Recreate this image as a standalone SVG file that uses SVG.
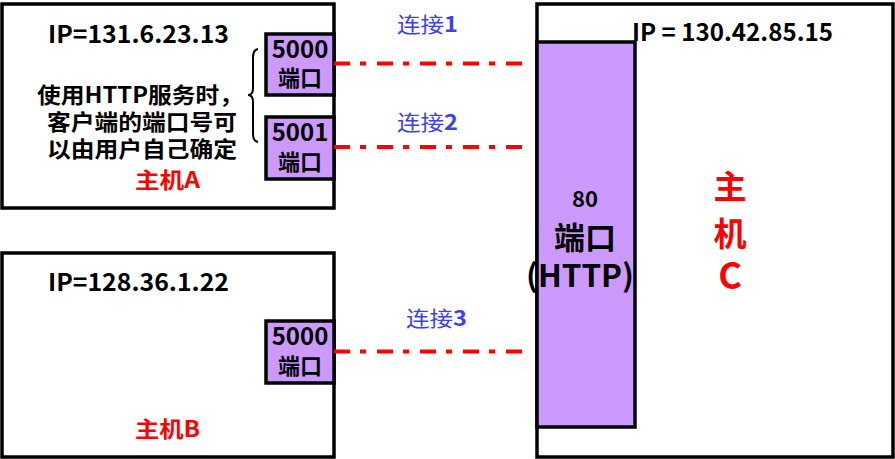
<svg xmlns="http://www.w3.org/2000/svg" width="895" height="459" viewBox="0 0 895 459">
<style>
.box{fill:#fff;stroke:#000;stroke-width:3.5}
.port{fill:#cc99ff;stroke:#000;stroke-width:3.5}
.t{font-family:"Noto Sans CJK SC","Open Sans",sans-serif;font-weight:bold;fill:#000}
.red{fill:#ff0000}
.blue{font-family:"Noto Sans CJK SC",sans-serif;fill:#3f3ff0;font-size:21px}
.conn{stroke:#ff0000;stroke-width:4;stroke-dasharray:16 10 6 11;fill:none}
</style>
<g id="hostA">
<rect class="box" x="2" y="4" width="332" height="204"/>
<text class="t" x="48" y="43" font-size="24" textLength="181" lengthAdjust="spacingAndGlyphs">IP=131.6.23.13</text>
<text class="t" x="37" y="103" font-size="22" textLength="206" lengthAdjust="spacingAndGlyphs">使用HTTP服务时，</text>
<text class="t" x="47" y="130" font-size="22" textLength="190" lengthAdjust="spacingAndGlyphs">客户端的端口号可</text>
<text class="t" x="47" y="157" font-size="22" textLength="190" lengthAdjust="spacingAndGlyphs">以由用户自己确定</text>
<text class="t red" x="135" y="188" font-size="22" textLength="65" lengthAdjust="spacingAndGlyphs">主机A</text>
<path d="M258,49 Q253,50 253,57 L253,88 Q253,95 248,95 Q253,95 253,102 L253,134 Q253,141 258,142" fill="none" stroke="#000" stroke-width="2"/>
</g>
<g id="portA5000">
<rect class="port" x="266" y="34" width="68" height="61"/>
<text class="t" x="300" y="58" font-size="24" text-anchor="middle">5000</text>
<text class="t" x="300" y="86" font-size="22" text-anchor="middle">端口</text>
</g>
<g id="portA5001">
<rect class="port" x="266" y="117" width="68" height="62"/>
<text class="t" x="300" y="141" font-size="24" text-anchor="middle">5001</text>
<text class="t" x="300" y="170" font-size="22" text-anchor="middle">端口</text>
</g>
<g id="hostB">
<rect class="box" x="2" y="253" width="332" height="204"/>
<text class="t" x="48" y="291" font-size="24" textLength="181" lengthAdjust="spacingAndGlyphs">IP=128.36.1.22</text>
<text class="t red" x="135" y="437" font-size="22" textLength="65" lengthAdjust="spacingAndGlyphs">主机B</text>
</g>
<g id="portB5000">
<rect class="port" x="266" y="321" width="68" height="62"/>
<text class="t" x="300" y="345" font-size="24" text-anchor="middle">5000</text>
<text class="t" x="300" y="374" font-size="22" text-anchor="middle">端口</text>
</g>
<g id="hostC">
<rect class="box" x="537" y="4" width="356" height="453"/>
<text class="t" x="632" y="41" font-size="24" textLength="201" lengthAdjust="spacingAndGlyphs">IP = 130.42.85.15</text>
<text class="t red" x="730" y="199" font-size="33" text-anchor="middle">主</text>
<text class="t red" x="730" y="246" font-size="33" text-anchor="middle">机</text>
<text class="t red" x="730" y="289" font-size="36" text-anchor="middle">C</text>
</g>
<g id="port80">
<rect class="port" x="537" y="42" width="98" height="385"/>
<text class="t" x="585" y="207" font-size="22" text-anchor="middle">80</text>
<text class="t" x="585" y="249" font-size="31" text-anchor="middle">端口</text>
<text class="t" x="580" y="287" font-size="31" text-anchor="middle" textLength="108" lengthAdjust="spacingAndGlyphs">(HTTP)</text>
</g>
<g id="connectors">
<line class="conn" x1="334" y1="63.5" x2="526" y2="63.5"/>
<line class="conn" x1="334" y1="147" x2="526" y2="147"/>
<line class="conn" x1="334" y1="351.5" x2="526" y2="351.5"/>
<text class="blue" x="397" y="32" textLength="61" lengthAdjust="spacingAndGlyphs">连接<tspan font-weight="bold">1</tspan></text>
<text class="blue" x="397" y="130" textLength="61" lengthAdjust="spacingAndGlyphs">连接<tspan font-weight="bold">2</tspan></text>
<text class="blue" x="406" y="326" textLength="61" lengthAdjust="spacingAndGlyphs">连接<tspan font-weight="bold">3</tspan></text>
</g>
</svg>
